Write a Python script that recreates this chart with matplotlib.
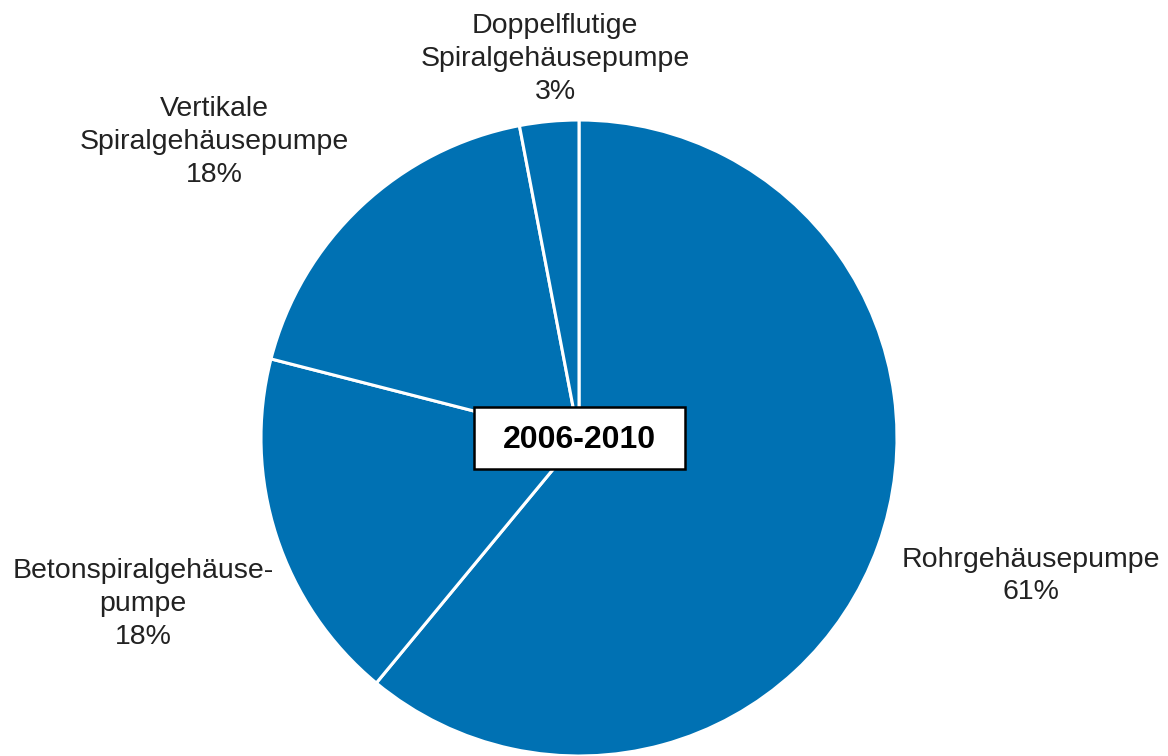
import matplotlib
matplotlib.use("Agg")
import matplotlib.pyplot as plt
from matplotlib.patches import Rectangle

# Pump types and their share of installations
categories = [
    "Rohrgehäusepumpe",
    "Betonspiralgehäuse-\npumpe",
    "Vertikale\nSpiralgehäusepumpe",
    "Doppelflutige\nSpiralgehäusepumpe",
]
shares = [61, 18, 18, 3]
period = "2006-2010"

plt.rcParams["font.family"] = ["Liberation Sans", "DejaVu Sans"]

W, H = 1168, 756
fig = plt.figure(figsize=(W / 100, H / 100), dpi=100)
ax = fig.add_axes([0, 0, 1, 1])

cx, cy, r = 579, H - 438, 318
blue = "#0071B3"

ax.pie(
    shares,
    startangle=90,
    counterclock=False,
    center=(cx, cy),
    radius=r,
    colors=[blue] * len(shares),
    wedgeprops=dict(edgecolor="white", linewidth=2.2),
    frame=True,
)
ax.set_xlim(0, W)
ax.set_ylim(0, H)
ax.set_aspect("equal")
ax.axis("off")

label_pos = [
    (1031, H - 576),
    (143, H - 604),
    (214, H - 142),
    (555, H - 59),
]
for name, val, (x, y) in zip(categories, shares, label_pos):
    ax.text(x, y, f"{name}\n{val}%", ha="center", va="center",
            fontsize=20.5, color="#222222", linespacing=1.33)

# Period box in the centre of the pie
bw, bh = 211, 62
ax.add_patch(Rectangle((cx - bw / 2, cy - bh / 2), bw, bh, facecolor="white",
                       edgecolor="black", linewidth=1.8, zorder=5))
ax.text(cx, cy - 2, period, ha="center", va="center", fontsize=23,
        fontweight="bold", color="black", zorder=6)

fig.savefig("out.png", dpi=100)
